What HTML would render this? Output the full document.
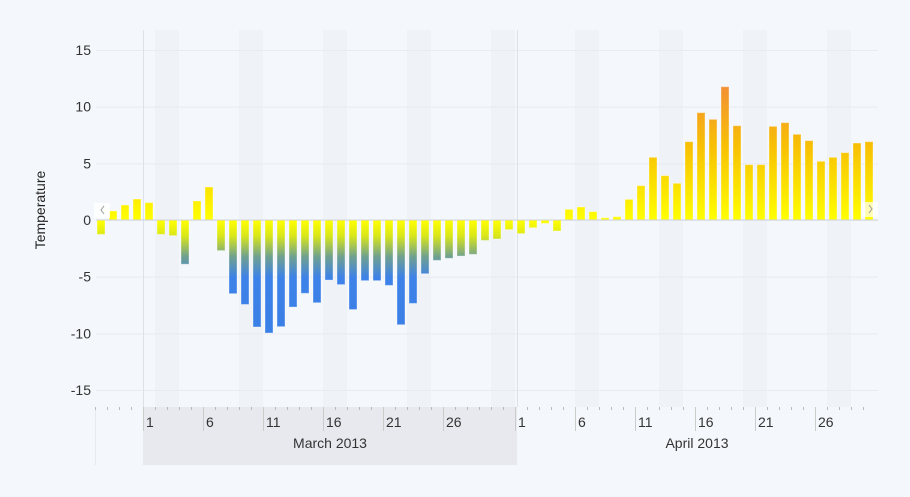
<!DOCTYPE html>
<html><head><meta charset="utf-8"><style>
html,body{margin:0;padding:0;background:#f4f7fb;}
svg{display:block;font-family:"Liberation Sans",sans-serif;}
</style></head><body>
<svg width="910" height="497">
<defs>
<linearGradient id="barGrad" gradientUnits="userSpaceOnUse" x1="0" y1="80" x2="0" y2="340">
<stop offset="0" stop-color="#f28a3a"/>
<stop offset="0.25" stop-color="#f7bf05"/>
<stop offset="0.54" stop-color="#ffff00"/>
<stop offset="0.6" stop-color="#d8e61a"/>
<stop offset="0.68" stop-color="#6fa090"/>
<stop offset="0.76" stop-color="#3d82e8"/>
<stop offset="1" stop-color="#3a7fe6"/>
</linearGradient>
</defs>
<g id="bands"></g>
<rect x="143" y="407" width="374" height="58" fill="#e8e9ee"/>
<g id="grid"></g>
<line x1="143.5" y1="30" x2="143.5" y2="407" stroke="#dde2ea"/>
<line x1="517.5" y1="30" x2="517.5" y2="407" stroke="#dde2ea"/>
<line x1="95.5" y1="407" x2="95.5" y2="465" stroke="#e6e9ef"/>
<g id="bars"></g>
<line x1="96" y1="220" x2="878" y2="220" stroke="#d0d4da"/>
<g id="yticks"></g>
<text transform="translate(45,210) rotate(-90)" text-anchor="middle" font-size="14" fill="#222">Temperature</text>
<g id="xaxis"></g>
<text x="330" y="448" text-anchor="middle" font-size="14" fill="#333">March 2013</text>
<text x="697" y="448" text-anchor="middle" font-size="14" fill="#333">April 2013</text>
<g><rect x="94" y="203" width="16" height="15" fill="#fff" opacity="0.8"/><path d="M104,206 l-3,4 l3,4" fill="none" stroke="#999"/></g>
<g><rect x="862" y="202" width="16" height="15" fill="#fff" opacity="0.7"/><path d="M869,205 l3,4 l-3,4" fill="none" stroke="#999"/></g>
</svg>
<script>
// days offset from Feb 25, 2013
const values = [-1.27,0.8,1.32,1.85,
1.53,-1.27,-1.38,-3.9,1.68,2.91,-2.7,-6.5,-7.45,-9.44,-9.97,-9.41,-7.68,-6.47,-7.3,-5.3,-5.7,-7.9,-5.35,-5.35,-5.77,-9.24,-7.36,-4.74,-3.56,-3.38,-3.18,-3.03,-1.8,-1.67,-0.85,
-1.2,-0.68,-0.3,-0.97,0.94,1.15,0.74,0.2,0.29,1.82,3.03,5.53,3.91,3.24,6.91,9.47,8.88,11.76,8.32,4.88,4.88,8.26,8.59,7.56,7.0,5.18,5.53,5.94,6.79,6.91];
const yTicks = [15,10,5,0,-5,-10,-15];
const dayLabels = ["1","6","11","16","21","26","1","6","11","16","21","26"];
const labelDayIdx = [4,9,14,19,24,29,35,40,45,50,55,60];
const weekendStartIdx = [-2,5,12,19,26,33,40,47,54,61];

const NS="http://www.w3.org/2000/svg";
const x0=95, dayW=12, yZero=220, pxPerUnit=170/15;
const xs=i=>x0+i*dayW;
const ys=v=>yZero-v*pxPerUnit;
function mk(tag,attrs,parent){const e=document.createElementNS(NS,tag);for(const k in attrs)e.setAttribute(k,attrs[k]);parent.appendChild(e);return e;}

const bands=document.getElementById('bands');
weekendStartIdx.forEach(i=>{
  const x=Math.max(96,xs(i)), w=Math.min(xs(i+2),878)-x;
  if(w<=0)return;
  const r=mk('rect',{x:x,y:30,width:w,height:377,fill:'#e9edf3',opacity:0.4},bands);
  
  
});
const grid=document.getElementById('grid'), yt=document.getElementById('yticks');
yTicks.forEach(t=>{
  const l=mk('line',{x1:96,x2:878,y1:ys(t)+0.5,y2:ys(t)+0.5,stroke:'#e8ebf0'},grid);
  
  
  const tx=mk('text',{x:91,y:ys(t)+5,'text-anchor':'end','font-size':14,fill:'#333'},yt);
  tx.textContent=String(t);
  
  
});
const bars=document.getElementById('bars');
values.forEach((v,i)=>{
  const y=Math.min(ys(v),yZero), h=Math.abs(ys(v)-yZero);
  const r=mk('rect',{x:xs(i)+2,y:y,width:8,height:h,fill:'url(#barGrad)',stroke:'rgba(255,255,255,0.35)','stroke-width':1},bars);
  
  
});
const xa=document.getElementById('xaxis');
for(let i=0;i<values.length;i++){
  const t=mk('line',{x1:xs(i)+0.5,x2:xs(i)+0.5,y1:407,y2:410,stroke:'#bbb'},xa);
  
  
}
dayLabels.forEach((lab,k)=>{
  const x=xs(labelDayIdx[k]);
  const t=mk('line',{x1:x+0.5,x2:x+0.5,y1:407,y2:431,stroke:'#ccc'},xa);
  
  
  const tx=mk('text',{x:x+3,y:427,'font-size':14,fill:'#333'},xa);
  tx.textContent=lab;
  
  
});
</script>
</body></html>
